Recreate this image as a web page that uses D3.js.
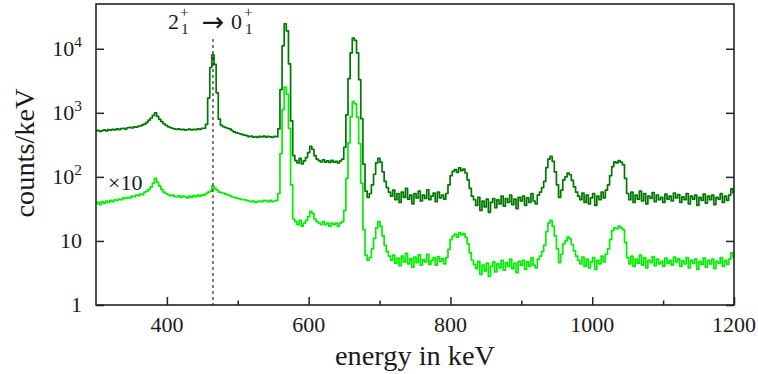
<!DOCTYPE html>
<html><head><meta charset="utf-8">
<script src="https://cdn.jsdelivr.net/npm/d3@7/dist/d3.min.js"></script>
<style>
body{margin:0;background:#fff}
</style>
</head><body>
<svg id="chart" width="758" height="374"></svg>
<script>
// ---- data (3 keV bins starting at 300 keV) ----
const binStart = 300;
const binWidth = 3;
const darkCounts = [
  520,535,512,528,540,522,545,538,550,542,   // 300
  560,548,565,572,558,585,595,580,605,598,   // 330
  615,625,650,670,710,770,830,910,1000,880,  // 360
  790,730,675,640,610,590,575,560,552,560,   // 390
  545,550,538,548,555,540,552,545,560,553,   // 420
  570,575,660,1700,5100,8050,5700,2050,800,640, // 450
  610,590,575,560,530,505,490,480,470,458,   // 480
  450,440,425,432,418,426,415,430,420,432,   // 510
  418,428,422,415,430,425,560,2300,11100,24500, // 540
  19000,5800,750,215,180,165,195,160,178,200, // 570
  240,300,270,215,190,180,172,185,170,178,   // 600
  168,182,170,175,165,178,190,290,930,3430,  // 630
  8620,14700,13500,8620,3310,810,158,60,48,55, // 660
  75,110,165,195,170,120,85,68,58,50,        // 690
  62,44,55,40,58,48,66,45,52,38,             // 720
  55,47,60,42,52,46,63,44,50,56,             // 750
  41,58,47,52,45,55,75,105,122,130,          // 780
  118,138,125,132,115,90,66,50,44,36,        // 810
  48,30,42,34,45,28,40,46,33,44,             // 840
  38,50,35,46,40,52,37,45,32,48,             // 870
  42,50,36,47,40,55,42,38,52,58,             // 900
  68,85,140,190,210,175,120,75,48,62,        // 930
  90,100,115,108,88,70,58,50,44,56,          // 960
  40,52,38,47,55,36,50,44,58,47,             // 990
  62,75,105,145,172,165,180,170,155,95,      // 1020
  55,44,58,40,52,45,60,42,55,38,             // 1050
  50,46,57,41,52,44,48,40,54,45,             // 1080
  50,42,56,47,53,40,49,44,55,38,             // 1110
  50,45,52,36,48,43,54,39,50,44,             // 1140
  52,37,48,45,55,40,50,43,52,65,             // 1170
  56                                         // 1200
];
const lightCounts = [
  38,40,37,41,39,42,40,43,41,44,             // 300
  43,45,44,47,46,48,47,50,49,52,             // 330
  51,54,53,58,60,64,70,80,95,82,             // 360
  72,64,58,55,53,51,52,50,49,51,             // 390
  48,50,49,47,50,48,51,49,52,50,             // 420
  53,52,55,58,60,72,66,62,58,57,             // 450
  56,54,53,51,49,48,47,46,45,44,             // 480
  44,43,42,41,42,40,41,42,41,43,             // 510
  42,41,43,41,42,43,55,230,1120,2520,        // 540
  1950,570,75,22,20,18,21,17,19,21,          // 570
  24,29,27,22,20,19,18,20,18,19,             // 600
  17,19,18,19,17,19,20,30,95,340,            // 630
  870,1500,1380,860,330,80,15,6,5,5.5,       // 660
  7.5,11,16,20,17,12,8.5,6.8,5.8,5,          // 690
  6.0,4.5,5.4,4.1,5.8,4.7,6.4,4.4,5.3,3.9,   // 720
  5.6,4.6,6.1,4.2,5.1,4.7,6.2,4.3,5.0,5.5,   // 750
  4.2,5.7,4.8,5.3,4.4,5.5,7.4,10.5,12.0,12.8, // 780
  11.5,13.5,12.4,13.0,11.4,9.0,6.5,5.0,4.3,3.7, // 810
  4.8,3.0,4.2,3.4,4.5,2.8,4.0,4.7,3.3,4.4,   // 840
  3.8,5.0,3.5,4.6,4.0,5.2,3.7,4.5,3.2,4.8,   // 870
  4.2,5.0,3.6,4.7,4.0,5.5,4.2,3.8,5.2,5.8,   // 900
  6.8,8.5,14,19,21,17,12,7.5,4.6,6.2,        // 930
  9.0,10,11.5,10.8,8.8,7.0,5.8,5.0,4.4,5.6,  // 960
  4.0,5.2,3.8,4.7,5.5,3.6,5.0,4.4,5.8,4.7,   // 990
  6.2,7.5,10.5,14.5,16,15.5,17,16,15,9.5,    // 1020
  5.5,4.4,5.8,4.0,5.2,4.5,6.0,4.2,5.5,3.8,   // 1050
  5.0,4.6,5.7,4.1,5.2,4.4,4.8,4.0,5.4,4.5,   // 1080
  5.0,4.2,5.6,4.7,5.3,4.0,4.9,4.4,5.5,3.8,   // 1110
  5.0,4.5,5.2,3.6,4.8,4.3,5.4,3.9,5.0,4.4,   // 1140
  5.2,3.7,4.8,4.5,5.5,4.0,5.0,4.3,5.2,6.5,   // 1170
  5.6                                        // 1200
];
const xMajorTicks = [400, 600, 800, 1000, 1200];
const xMinorTicks = [500, 700, 900, 1100];
const yTicks = [1, 10, 100, 1000, 10000];
const xDomain = [300, 1200];
const yDomain = [1, 50000];
const transitionEnergy = 465;

// ---- font selection (pick an installed serif face) ----
const ctx = document.createElement("canvas").getContext("2d");
function measure(font, size, s){ ctx.font = `${size}px ${font}`; return ctx.measureText(s).width; }
function installed(name){
  const s = "mmmmmmmmmmlliiWW1043";
  return measure(`"${name}", monospace`,72,s) !== measure("monospace",72,s) ||
         measure(`"${name}", sans-serif`,72,s) !== measure("sans-serif",72,s);
}
const serifFont = ["Liberation Serif","DejaVu Serif","Noto Serif","Times New Roman","FreeSerif"]
  .find(installed) || "serif";
const FONT = `"${serifFont}", serif`;
const fit = (s, w) => 100 * w / measure(FONT, 100, s);
const tickSize = fit("400", 33);
const titleSize = fit("energy in keV", 160);
const supSize = tickSize * 0.7;

// ---- layout ----
const plot = {left: 96, right: 734, top: 4, bottom: 305};
const svg = d3.select("#chart").style("font-family", FONT);
const x = d3.scaleLinear().domain(xDomain).range([plot.left, plot.right]);
const y = d3.scaleLog().domain(yDomain).range([plot.bottom, plot.top]);
const axisColor = "#222";
const textColor = "#1a1a1a";

svg.append("defs").append("clipPath").attr("id","clip")
  .append("rect").attr("x",plot.left).attr("y",plot.top)
  .attr("width",plot.right-plot.left).attr("height",plot.bottom-plot.top);

const energyOf = i => binStart + i*binWidth;
const line = d3.line()
  .x((d,i) => x(energyOf(i)))
  .y(d => y(d))
  .curve(d3.curveStep);

const g = svg.append("g").attr("clip-path","url(#clip)");
g.append("path").datum(lightCounts)
  .attr("fill","none").attr("stroke","#00f000").attr("stroke-width",1.7)
  .attr("stroke-linejoin","round").attr("d",line);
g.append("path").datum(darkCounts)
  .attr("fill","none").attr("stroke","#007800").attr("stroke-width",1.7)
  .attr("stroke-linejoin","round").attr("d",line);

// dotted transition marker
svg.append("line")
  .attr("x1",x(transitionEnergy)).attr("x2",x(transitionEnergy))
  .attr("y1",39).attr("y2",plot.bottom)
  .attr("stroke","#111").attr("stroke-width",1.1).attr("stroke-dasharray","3,3");

// axes (inward ticks)
function styleAxis(sel){
  sel.select(".domain").remove();
  sel.selectAll(".tick line").attr("stroke",axisColor).attr("stroke-width",1.5);
  sel.selectAll(".tick text").remove();
}
svg.append("g").attr("transform",`translate(0,${plot.bottom})`)
  .call(d3.axisBottom(x).tickValues(xMajorTicks).tickSize(-8)).call(styleAxis);
svg.append("g").attr("transform",`translate(0,${plot.bottom})`)
  .call(d3.axisBottom(x).tickValues(xMinorTicks).tickSize(-4.5)).call(styleAxis);
svg.append("g").attr("transform",`translate(${plot.left},0)`)
  .call(d3.axisLeft(y).tickValues(yTicks).tickSize(-8)).call(styleAxis);
svg.append("g").attr("transform",`translate(${plot.right},0)`)
  .call(d3.axisRight(y).tickValues(yTicks).tickSize(-8)).call(styleAxis);

// frame
svg.append("rect").attr("x",plot.left).attr("y",plot.top)
  .attr("width",plot.right-plot.left).attr("height",plot.bottom-plot.top)
  .attr("fill","none").attr("stroke",axisColor).attr("stroke-width",1.6);

// x tick labels
svg.append("g").attr("fill",textColor).selectAll("text").data(xMajorTicks).join("text")
  .attr("x",d=>x(d)).attr("y",332).attr("text-anchor","middle")
  .attr("font-size",tickSize).text(d=>d);

// y tick labels
const yl = svg.append("g").attr("fill",textColor).selectAll("text").data(yTicks).join("text")
  .attr("x",82).attr("y",d=>y(d)+7).attr("text-anchor","end").attr("font-size",tickSize);
yl.each(function(d){
  const t = d3.select(this);
  const p = Math.round(Math.log10(d));
  if (p < 2) { t.text(d); }
  else {
    t.append("tspan").text("10");
    t.append("tspan").attr("dy",-9).attr("font-size",supSize).text(p);
  }
});

// axis titles
svg.append("text").attr("fill",textColor).attr("x",(plot.left+plot.right)/2).attr("y",365)
  .attr("text-anchor","middle").attr("font-size",titleSize).text("energy in keV");
svg.append("text").attr("fill",textColor).attr("transform","translate(34,153) rotate(-90)")
  .attr("text-anchor","middle").attr("font-size",titleSize).text("counts/keV");

// x10 label
svg.append("text").attr("fill",textColor).attr("x",108).attr("y",190)
  .attr("font-size",tickSize).text("×10");

// transition annotation 2_1^+ -> 0_1^+
const ax = x(transitionEnergy);
const ann = svg.append("g").attr("fill",textColor).attr("font-size",tickSize);
ann.append("text").attr("x",ax-45).attr("y",29).text("2");
ann.append("text").attr("x",ax-33).attr("y",17).attr("font-size",supSize).text("+");
ann.append("text").attr("x",ax-32).attr("y",34).attr("font-size",supSize).text("1");
ann.append("text").attr("x",ax).attr("y",31).attr("text-anchor","middle")
  .style("font-family",'"DejaVu Sans", sans-serif').attr("font-size",27).text("→");
ann.append("text").attr("x",ax+18).attr("y",29).text("0");
ann.append("text").attr("x",ax+31).attr("y",17).attr("font-size",supSize).text("+");
ann.append("text").attr("x",ax+32).attr("y",34).attr("font-size",supSize).text("1");
</script>
</body></html>
